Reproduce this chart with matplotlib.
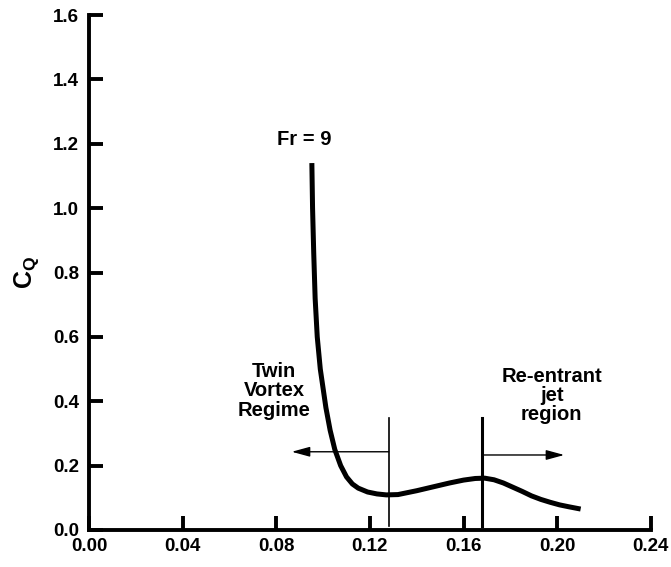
import matplotlib
matplotlib.use("Agg")
import matplotlib.pyplot as plt

plt.rcParams['font.family'] = ['Liberation Sans', 'DejaVu Sans']
plt.rcParams['font.weight'] = 'bold'
plt.rcParams['mathtext.fontset'] = 'custom'
plt.rcParams['mathtext.bf'] = 'Liberation Sans:bold'
plt.rcParams['mathtext.rm'] = 'Liberation Sans:bold'

# Fr = 9 curve
spacing = [0.0952, 0.0955, 0.0960, 0.0966, 0.0975, 0.0988, 0.0998, 0.1012, 0.1030,
           0.1050, 0.1075, 0.1100, 0.1125, 0.1150, 0.1190, 0.1230, 0.1270, 0.1320,
           0.1400, 0.1470, 0.1540, 0.1600, 0.1650, 0.1690, 0.1730, 0.1770, 0.1810,
           0.1850, 0.1890, 0.1930, 0.1970, 0.2010, 0.2050, 0.2100]
cq = [1.14, 1.00, 0.86, 0.72, 0.60, 0.50, 0.45, 0.38, 0.31,
      0.25, 0.20, 0.165, 0.143, 0.130, 0.118, 0.112, 0.109, 0.110,
      0.122, 0.134, 0.146, 0.155, 0.160, 0.161, 0.156, 0.146, 0.133,
      0.120, 0.106, 0.095, 0.086, 0.078, 0.072, 0.065]

# regime boundaries
twin_limit = 0.128
jet_limit = 0.168
boundary_y = [0.012, 0.348]

xticks = [0.00, 0.04, 0.08, 0.12, 0.16, 0.20, 0.24]
yticks = [0.0, 0.2, 0.4, 0.6, 0.8, 1.0, 1.2, 1.4, 1.6]

fig = plt.figure(figsize=(6.71, 5.67), dpi=100)
ax = fig.add_axes([0.1326, 0.0653, 0.8374, 0.9082])

ax.plot(spacing, cq, color='black', lw=3.6, solid_capstyle='butt')

ax.plot([twin_limit, twin_limit], boundary_y, color='black', lw=1.2)
ax.plot([jet_limit, jet_limit], boundary_y, color='black', lw=2.2)

ax.annotate('', xy=(0.0866, 0.243), xytext=(twin_limit, 0.243),
            arrowprops=dict(arrowstyle='-|>,head_length=1.1,head_width=0.3',
                            color='black', lw=1.0, shrinkA=0, shrinkB=0))
ax.annotate('', xy=(0.203, 0.233), xytext=(jet_limit, 0.233),
            arrowprops=dict(arrowstyle='-|>,head_length=1.1,head_width=0.3',
                            color='black', lw=1.0, shrinkA=0, shrinkB=0))

ax.text(0.0918, 1.214, 'Fr = 9', ha='center', va='center', fontsize=14.5, fontweight='bold')
ax.text(0.079, 0.432, 'Twin\nVortex\nRegime', ha='center', va='center',
        fontsize=14.5, fontweight='bold', linespacing=1.05)
ax.text(0.1977, 0.419, 'Re-entrant\njet\nregion', ha='center', va='center',
        fontsize=14.5, fontweight='bold', linespacing=1.0)

ax.set_xlim(0, 0.24)
ax.set_ylim(0, 1.6)
ax.set_xticks(xticks)
ax.set_xticklabels([f'{v:.2f}' for v in xticks])
ax.set_yticks(yticks)
ax.set_yticklabels([f'{v:.1f}' for v in yticks])

for side in ['top', 'right']:
    ax.spines[side].set_visible(False)
for side in ['left', 'bottom']:
    ax.spines[side].set_linewidth(2.8)

ax.tick_params(direction='in', length=10, width=2.8, labelsize=13.5)
ax.tick_params(axis='y', pad=7)
ax.tick_params(axis='x', pad=6)
for lab in ax.get_xticklabels() + ax.get_yticklabels():
    lab.set_fontweight('bold')

ax.set_ylabel(r'$\mathbf{C_Q}$', fontsize=18, labelpad=9)

fig.savefig('out.png', dpi=100)
